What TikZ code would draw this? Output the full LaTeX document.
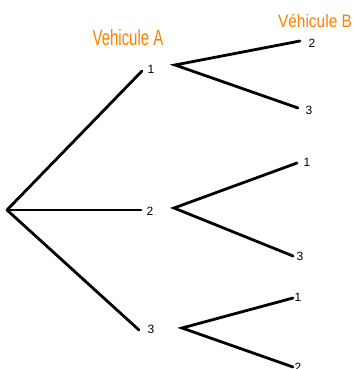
\documentclass[tikz,border=0pt]{standalone}
\usepackage{fontspec}
\setmainfont{Liberation Sans}
\begin{document}
\begin{tikzpicture}[x=1pt,y=-1pt,
  br/.style={line width=2.8pt,line cap=round},
  num/.style={inner sep=0pt,font=\fontsize{12}{13}\selectfont},
  ttl/.style={inner sep=0pt,text=orange1}]
\definecolor{orange1}{RGB}{255,128,0}
\useasboundingbox (0,0) rectangle (356,369);
% titles
\node[ttl,font=\fontsize{22}{24}\selectfont,xscale=0.68] (tA) at (128,38) {Vehicule A};
\node[ttl,font=\fontsize{18}{20}\selectfont,xscale=0.86] (tB) at (315,21) {Véhicule B};
% root
\coordinate (r) at (7,210);
% level 1
\coordinate (e1) at (142,71);
\coordinate (e2) at (141,210);
\coordinate (e3) at (139,330);
\node[num] (n1) at (151,69) {1};
\node[num] (n2) at (150,211) {2};
\node[num] (n3) at (151,329) {3};
\draw[br] (r) -- (e1);
\draw[br] (r) -- (e2);
\draw[br] (r) -- (e3);
% level 2 apexes
\coordinate (a1) at (175,65);
\coordinate (a2) at (174,208);
\coordinate (a3) at (182,328);
% level 2 ends
\coordinate (b11) at (300,41);
\coordinate (b12) at (298,108);
\coordinate (b21) at (297,163);
\coordinate (b22) at (293,256);
\coordinate (b31) at (293,298);
\coordinate (b32) at (293,367);
\node[num] (m11) at (312,43) {2};
\node[num] (m12) at (309,110) {3};
\node[num] (m21) at (307,162) {1};
\node[num] (m22) at (300,256) {3};
\node[num] (m31) at (298,297) {1};
\node[num] (m32) at (298,367) {2};
\draw[br] (b11) -- (a1) -- (b12);
\draw[br] (b21) -- (a2) -- (b22);
\draw[br] (b31) -- (a3) -- (b32);
\end{tikzpicture}
\end{document}
